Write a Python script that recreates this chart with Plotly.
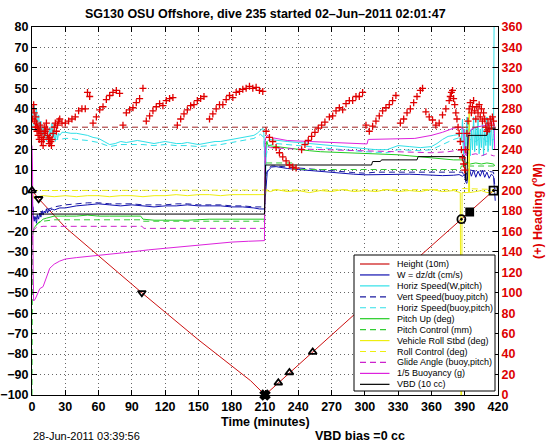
import plotly.graph_objects as go

# ---------------- layout geometry (pixels) ----------------
W, H = 546, 442
ML, MR, MT, MB = 32, 48, 27, 47
PW = W - ML - MR
PH = H - MT - MB


def px(xp):
    return (xp - ML) / PW


def py(yp):
    return (H - MB - yp) / PH


# ---------------- data ----------------
title_text = "SG130 OSU Offshore, dive 235 started 02\u2013Jun\u20132011 02:01:47"
x_ticks = [0, 30, 60, 90, 120, 150, 180, 210, 240, 270, 300, 330, 360, 390, 420]

# Height (10 m) vs time (min)
height_pts = [(0, 0), (6, -4), (30, -18), (60, -32), (99, -50), (150, -73), (197, -93),
              (210, -100), (300, -56), (387, -14), (394.5, -10.5), (416, 0)]
mk_up_tri = [(0, 0), (222, -94), (232, -89), (253, -79)]
mk_dn_tri = [(6, -4), (99, -50)]
mk_bottom = [(210, -100)]
mk_circle = [(387, -14)]
mk_fill_sq = [(394.5, -10.5)]
mk_open_sq = [(416, 0)]

w_pts = [(0, -2), (1, -12), (2, -15), (3, -13), (4, -16), (5, -12), (6, -14), (7, -11), (8, -13),
         (9, -10), (10, -12), (11, -10), (12, -11), (13, -9), (14, -11), (15, -9), (16, -10),
         (18, -9), (20, -9.5), (22, -9), (25, -8.5), (30, -8.5), (40, -7.5), (50, -7), (60, -6.5),
         (70, -7), (80, -7.5), (90, -7), (100, -7.5), (110, -8), (120, -7.5), (130, -7.5),
         (140, -7), (150, -7.5), (160, -7.5), (170, -7.5), (180, -8), (190, -8), (200, -8.5),
         (205, -9), (209.5, -9), (211, 5), (212, 9), (214, 10.5), (216, 11.5), (220, 11.7),
         (225, 11.2), (230, 10.8), (240, 10.3), (250, 9.8), (260, 9.2), (270, 8.7), (280, 8.3),
         (290, 8), (300, 7.7), (310, 7.8), (320, 8), (330, 8.2), (340, 8), (350, 7.8), (360, 7.5),
         (370, 7.3), (380, 7.5), (385, 7.8), (388, 7), (390, 8), (391, 4), (392, 3.5), (393, 9),
         (394, 11), (396, 7), (398, 10), (400, 6.5), (402, 9.5), (404, 7), (406, 10), (408, 6.5),
         (410, 9), (412, 6), (414, 8), (416, 7), (417.5, -5)]

vs_pts = [(0, -3), (1, -10), (2, -14), (3, -12), (4, -14), (5, -11), (7, -12), (9, -10), (11, -10),
          (13, -9), (15, -9), (18, -8.5), (20, -8), (25, -7.5), (30, -7), (40, -6.5), (50, -6),
          (60, -6), (70, -6.5), (80, -6.5), (90, -6.5), (100, -7), (110, -7), (120, -7), (130, -6.5),
          (140, -6.5), (150, -7), (160, -7), (170, -7), (180, -7.5), (190, -7.5), (200, -8),
          (209.5, -8), (211, 8), (213, 11), (216, 12), (220, 12), (230, 11.5), (240, 11), (250, 10.5),
          (260, 10), (270, 9.5), (280, 9), (290, 8.8), (300, 8.5), (310, 9), (320, 9), (330, 9),
          (340, 9), (350, 9), (360, 8.8), (370, 8.8), (380, 9), (388, 9), (390, 6), (392, 9),
          (395, 10), (400, 9.5), (405, 9.5), (410, 9.5), (416, 9), (417.5, 0)]

hs_pts = [(0, 35), (1, 38), (2, 42), (3, 36), (4, 40), (5, 33), (6, 37), (7, 30), (8, 34), (9, 28),
          (10, 31), (11, 26), (12, 30), (13, 24), (14, 28), (15, 25), (16, 31), (17, 27), (18, 33),
          (19, 26), (20, 30), (21, 24), (22, 29), (23, 25), (24, 28), (25, 27), (27, 28.5), (30, 28.5),
          (35, 28), (40, 28), (45, 27.5), (50, 27), (55, 26), (60, 25.5), (65, 24), (70, 22.5),
          (75, 23), (80, 24), (85, 23.5), (90, 24), (95, 24.5), (100, 24), (105, 23.5), (110, 23),
          (115, 23.5), (120, 24), (125, 23.5), (130, 23), (135, 23), (140, 23.5), (145, 23),
          (150, 22.5), (155, 23), (160, 23.5), (165, 24), (170, 24), (175, 24.5), (180, 25),
          (185, 25.5), (190, 26), (195, 26.5), (200, 27), (203, 28), (206, 29.5), (208, 30.5),
          (209, 28), (210, 8), (210.5, 5), (211, 18), (212, 24), (214, 25), (220, 24.5), (230, 24),
          (240, 23.5), (250, 23), (260, 22.5), (270, 22), (280, 21.5), (290, 21), (300, 20.5),
          (310, 20), (320, 20), (330, 22), (340, 21.5), (350, 21), (360, 21.5), (365, 23), (370, 25),
          (375, 26.5), (380, 27), (385, 27.5), (387, 24), (388, 35), (389, 14), (390, 30), (391, 18),
          (392, 36), (393, 22), (394, 33), (395, 17), (396, 30), (397, 20), (398, 36), (399, 19),
          (400, 31), (401, 22), (402, 35), (403, 18), (404, 30), (405, 21), (406, 34), (407, 17),
          (408, 29), (409, 22), (410, 36), (411, 19), (412, 31), (413, 22), (414, 35), (415, 20),
          (416, 28), (416.5, 85)]

hb_pts = [(0.5, 30), (2, 36), (4, 34), (6, 32), (8, 29), (10, 27), (12, 26), (14, 25), (16, 27),
          (18, 28), (20, 26), (22, 25), (25, 25), (30, 25.5), (35, 25.5), (40, 25), (50, 24.5),
          (60, 23.5), (70, 21.5), (80, 22.5), (90, 22.5), (100, 22.5), (110, 22), (120, 22.5),
          (130, 22), (140, 22), (150, 21.5), (160, 22), (170, 22.5), (180, 23.5), (190, 24.5),
          (200, 25.5), (206, 27.5), (209, 26), (210, 8), (211, 17), (213, 22), (220, 23), (240, 22),
          (260, 21), (280, 20), (300, 19), (320, 18.5), (330, 20), (350, 19.5), (360, 20),
          (370, 22.5), (380, 25), (386, 26), (390, 22), (395, 25), (400, 24), (405, 26), (410, 24),
          (416, 25), (417, 25)]

pu_pts = [(0, -22), (1, -20), (2, -18), (4, -17), (6, -15.5), (8, -15), (10, -14), (13, -13.5),
          (16, -13), (20, -12.5), (30, -12.5), (40, -12.5), (50, -12), (60, -12.5), (70, -12.5),
          (80, -12.5), (90, -12.5), (98, -12.5), (100, -14), (110, -14.5), (120, -14.5),
          (140, -14.5), (160, -14), (180, -14), (200, -14), (209.5, -14), (210.5, 20),
          (211.5, 24), (213, 22), (220, 21.5), (230, 21), (240, 20), (250, 19.5), (260, 19),
          (270, 18.8), (280, 18.5), (290, 18.5), (300, 18.2), (310, 18), (320, 18), (330, 17.5),
          (340, 17), (350, 16.5), (360, 16), (370, 15.5), (380, 15), (388, 15), (390, 12),
          (392, 14), (395, 13), (400, 13.5), (405, 13), (410, 13.5), (416, 13), (417, 12)]

pc_pts = [(0, -100), (0.5, -22), (2, -18), (5, -16), (10, -15), (20, -14.3), (60, -14.3),
          (99, -14.3), (100, -15), (150, -15), (209.5, -15), (210.5, 13.5), (235, 13.5),
          (236, 10.3), (300, 10.3), (386, 10.3), (387, 12), (416, 12), (417, 12)]

vr_pts = [(0, -1), (2, -4), (5, -3), (10, -2.5), (20, -3), (30, -2.5), (40, -3), (50, -2.5),
          (60, -2.5), (70, -3), (80, -2.5), (90, -2.5), (100, -3), (110, -2.5), (120, -2.5),
          (130, -2), (140, -2.5), (150, -2), (160, -2), (170, -2.5), (180, -2), (190, -2),
          (200, -2), (209.5, -2), (211, 0), (215, -0.5), (220, 0.5), (230, -0.5), (240, 0),
          (250, -1), (260, 0), (270, -0.5), (280, 0.5), (290, -0.5), (300, 0), (310, -0.5),
          (320, 0.5), (330, -0.5), (340, 0), (350, -0.5), (360, 0.5), (370, -0.5), (380, 0),
          (386, -1), (386.6, -100), (387.2, -100), (387.6, -1), (393.5, -1), (394, 39),
          (394.4, -1), (400, -0.5), (405, 0), (410, -1), (416, -0.5), (417, -1)]

rc_pts = [(0, 0), (209.5, 0.3), (211, 0.5), (386, 0.5), (388, 1), (416, 0.5), (417, 0.5)]

ga_pts = [(0, -25), (1, -20), (2, -19), (4, -18), (10, -17.5), (20, -17.5), (50, -17.5),
          (99, -17.5), (101, -18.5), (150, -18.5), (209.5, -18.5), (210.5, 22), (215, 21),
          (230, 20.5), (260, 20), (300, 19.5), (330, 19), (360, 18.5), (375, 19), (385, 20),
          (388, 20), (390, 15), (392, 19), (395, 17.5), (400, 18), (405, 17), (410, 18),
          (416, 17), (417, 17)]

by_pts = [(0, 22), (0.5, 10), (1, -40), (1.5, -54), (3, -53), (5, -50), (7, -48), (10, -47),
          (12, -44), (14, -40), (16, -38), (18, -37), (20, -36), (25, -34.5), (30, -33.5),
          (40, -32.8), (50, -32.3), (60, -31.8), (75, -31), (90, -30), (105, -29), (120, -28.2),
          (135, -27.4), (150, -26.6), (165, -25.8), (180, -25.2), (195, -24.8), (209.5, -24.5),
          (210.2, 25), (212, 27), (215, 26), (230, 24.5), (250, 24), (270, 23.5), (290, 23),
          (302, 22.8), (303, 25), (330, 25.5), (345, 25.5), (360, 27), (370, 28.5), (380, 30.5),
          (386, 31), (389, 30), (390, 18), (392, 17), (394, 28), (396, 30), (400, 31), (405, 31.5),
          (410, 32), (415, 33), (416.5, 33), (417, 20)]

vb_pts = [(0, -11.5), (209.5, -11.5), (210.5, 12.5), (306, 12.5), (307, 14.2), (314, 14.2),
          (315, 15), (347, 15), (348, 16.6), (390, 16.6), (391, 5), (392, 5), (393, 27),
          (410, 27), (411, 30.5), (418, 30.5)]

# Heading (deg M), right axis
heading_target = [(0, 262), (418, 262)]
heading_pts = [
    (0.5, 270), (1, 280), (1.5, 284), (2, 276), (2.5, 268), (3, 262), (3.5, 272), (4, 266),
    (4.5, 258), (5, 262), (5.5, 254), (6, 260), (6.5, 250), (7, 258), (7.5, 264), (8, 256),
    (8.5, 248), (9, 252), (10, 244), (10.5, 250), (11, 256), (11.5, 262), (12, 258), (13, 266),
    (13.5, 260), (14, 254), (15, 250), (15.5, 246), (16, 252), (17, 248), (17.5, 244), (18, 250),
    (19, 256), (20, 262), (21, 266), (22, 258), (23, 264), (24, 268), (25, 270),
    (27, 266), (30, 266), (33, 268), (36, 270), (39, 272), (42, 278), (45, 280),
    (48, 280), (50, 296), (52, 292),
    (55, 266), (58, 272), (61, 279), (64, 282), (67, 289), (70, 293), (73, 296), (76, 298),
    (79, 295), (82, 264), (85, 276), (88, 279), (91, 281), (94, 286), (97, 290), (100, 300),
    (103, 268), (106, 273), (109, 278), (112, 282), (115, 285), (118, 283), (121, 288),
    (124, 290), (127, 291), (131, 264), (134, 270), (137, 275), (140, 279), (143, 283),
    (146, 284), (149, 288), (152, 290), (155, 292), (160, 270), (163, 275), (166, 280),
    (169, 284), (172, 284), (175, 289), (178, 293), (181, 291), (184, 296), (187, 297),
    (190, 299), (193, 300), (196, 302), (199, 300), (202, 301), (205, 298), (208, 297),
    (211, 258), (214, 252), (217, 248), (220, 242), (223, 237), (226, 233), (229, 229),
    (232, 225), (235, 223), (238, 222), (243, 240), (246, 245), (249, 249), (252, 253),
    (255, 257), (258, 261), (261, 264), (264, 267), (268, 272), (271, 273), (274, 278),
    (277, 281), (280, 279), (283, 285), (286, 288), (289, 288), (292, 292), (295, 292),
    (298, 296), (301, 264), (304, 258), (307, 263), (310, 268), (313, 273), (316, 278),
    (319, 281), (322, 284), (325, 288), (328, 293), (332, 266), (335, 270), (338, 276),
    (341, 280), (344, 286), (347, 292), (350, 298), (352, 300), (355, 277), (358, 272),
    (361, 269), (364, 264), (367, 266), (370, 274), (373, 280), (376, 288), (377, 292),
    (378, 296), (379, 298), (380, 290), (381, 284), (382, 276), (383, 270), (384, 262),
    (385, 256), (386, 248), (387, 240), (388, 232), (389, 226), (390, 220), (391, 240),
    (392, 256), (393, 268), (394, 280), (395, 286), (396, 276), (397, 282), (398, 288),
    (399, 278), (400, 270), (401, 282), (402, 276), (403, 284), (404, 272), (405, 280),
    (406, 268), (407, 276), (408, 270), (409, 262), (410, 258), (411, 266), (412, 260),
    (413, 270), (414, 264), (415, 272), (416, 268)]

# series definitions: (legend name, points, colour, dash)
series = [
    ("Height (10m)", height_pts, "#cc1010", "solid"),
    ("W = dz/dt (cm/s)", w_pts, "#1010b0", "solid"),
    ("Horiz Speed(W,pitch)", hs_pts, "#30e0e8", "solid"),
    ("Vert Speed(buoy,pitch)", vs_pts, "#1a1aa0", "6px,4px"),
    ("Horiz Speed(buoy,pitch)", hb_pts, "#30e0e8", "6px,4px"),
    ("Pitch Up (deg)", pu_pts, "#22cc22", "solid"),
    ("Pitch Control (mm)", pc_pts, "#33cc33", "6px,4px"),
    ("Vehicle Roll Stbd (deg)", vr_pts, "#eeee10", "solid"),
    ("Roll Control (deg)", rc_pts, "#eeee10", "6px,4px"),
    ("Glide Angle (buoy,pitch)", ga_pts, "#cc22cc", "6px,4px"),
    ("1/5 Buoyancy (g)", by_pts, "#dd22dd", "solid"),
    ("VBD (10 cc)", vb_pts, "#000000", "solid"),
]

fig = go.Figure()


def unzip(pts):
    return [p[0] for p in pts], [p[1] for p in pts]


for name, pts, col, dash in series:
    xs, ys = unzip(pts)
    fig.add_trace(go.Scatter(x=xs, y=ys, mode="lines", name=name, showlegend=False,
                             line=dict(color=col, width=1, dash=dash)))

marker_sets = [
    (mk_up_tri, "triangle-up-open", 7, "#000000"),
    (mk_dn_tri, "triangle-down-open", 7, "#000000"),
    (mk_bottom, "x", 8, "#000000"),
    (mk_circle, "circle-open-dot", 8, "#000000"),
    (mk_fill_sq, "square", 7, "#000000"),
    (mk_open_sq, "square-open-dot", 8, "#000000"),
]
for pts, sym, size, col in marker_sets:
    xs, ys = unzip(pts)
    fig.add_trace(go.Scatter(x=xs, y=ys, mode="markers", showlegend=False, cliponaxis=False,
                             marker=dict(symbol=sym, size=size, color=col,
                                         line=dict(color=col, width=1.8))))

xs, ys = unzip(heading_target)
fig.add_trace(go.Scatter(x=xs, y=ys, yaxis="y2", mode="lines", showlegend=False,
                         line=dict(color="#a02020", width=1, dash="6px,4px")))
xs, ys = unzip(heading_pts)
fig.add_trace(go.Scatter(x=xs, y=ys, yaxis="y2", mode="markers", showlegend=False,
                         marker=dict(symbol="cross-thin", size=5, color="#e00000",
                                     line=dict(color="#e00000", width=1.3))))

FONT = "Liberation Sans, Arial, sans-serif"
tickfont = dict(family=FONT, size=12.5, color="black", weight="bold")
GRID = dict(showgrid=True, gridcolor="#666666", griddash="1px,3px", gridwidth=1)

fig.update_layout(
    template="none",
    width=W, height=H, margin=dict(l=ML, r=MR, t=MT, b=MB, autoexpand=False),
    paper_bgcolor="white", plot_bgcolor="white", showlegend=False,
    xaxis=dict(range=[0, 420], tickvals=x_ticks, **GRID, zeroline=False, showline=True,
               linecolor="black", linewidth=1, mirror="ticks", ticks="inside", ticklen=5,
               tickcolor="black", tickfont=tickfont, automargin=False),
    yaxis=dict(range=[-100, 80], dtick=10, **GRID, zeroline=False, showline=True,
               linecolor="black", linewidth=1, mirror=True, ticks="inside", ticklen=5,
               tickcolor="black", tickfont=tickfont, automargin=False),
    yaxis2=dict(range=[0, 360], dtick=20, overlaying="y", side="right", showgrid=False,
                zeroline=False, showline=True, linecolor="black", ticks="inside", ticklen=5,
                tickcolor="black", automargin=False,
                tickfont=dict(family=FONT, size=12.5, color="#dd0000", weight="bold")),
)

ann = []
ann.append(dict(text=title_text, x=0.5, y=py(13.5), xref="paper", yref="paper",
                showarrow=False, font=dict(family=FONT, size=12.5, color="black", weight="bold"),
                xanchor="center", yanchor="middle"))
ann.append(dict(text="Time (minutes)", x=0.5, y=py(422), xref="paper", yref="paper",
                showarrow=False, font=dict(family=FONT, size=12.5, color="black", weight="bold"),
                xanchor="center", yanchor="middle"))
ann.append(dict(text="28-Jun-2011 03:39:56", x=px(31), y=py(435.5), xref="paper", yref="paper",
                showarrow=False, font=dict(family=FONT, size=11, color="black"),
                xanchor="left", yanchor="middle"))
ann.append(dict(text="VBD bias =0 cc", x=px(313), y=py(436), xref="paper", yref="paper",
                showarrow=False, font=dict(family=FONT, size=12.5, color="black", weight="bold"),
                xanchor="left", yanchor="middle"))
ann.append(dict(text="(+) Heading (<sup>o</sup>M)", x=px(537), y=py(211), xref="paper",
                yref="paper", showarrow=False, textangle=-90,
                font=dict(family=FONT, size=12.5, color="#dd0000", weight="bold"),
                xanchor="center", yanchor="middle"))

# ---------------- legend box drawn by hand ----------------
shapes = []
LX0, LX1, LY0, LY1 = 354, 495, 255, 391
shapes.append(dict(type="rect", xref="paper", yref="paper", x0=px(LX0), x1=px(LX1),
                   y0=py(LY1), y1=py(LY0), fillcolor="white", line=dict(color="black", width=1),
                   layer="above"))
for i, (name, pts, col, dash) in enumerate(series):
    yy = 264 + i * 10.94
    d = "solid" if dash == "solid" else "6px,4px"
    shapes.append(dict(type="line", xref="paper", yref="paper", x0=px(360), x1=px(389.5),
                       y0=py(yy), y1=py(yy), line=dict(color=col, width=1.2, dash=d),
                       layer="above"))
    ann.append(dict(text=name, x=px(395), y=py(yy), xref="paper", yref="paper",
                    showarrow=False, font=dict(family=FONT, size=9, color="black"),
                    xanchor="left", yanchor="middle"))

fig.update_layout(annotations=ann, shapes=shapes)
fig.write_html("out.html", config={"displayModeBar": False},
               post_script="document.body.style.margin='0px';document.body.style.overflow='hidden';")
